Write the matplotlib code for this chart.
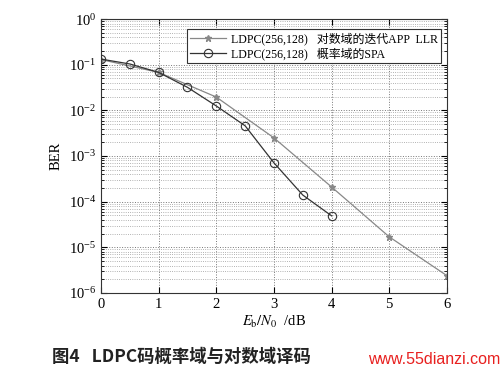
import matplotlib
matplotlib.use("Agg")
import matplotlib.pyplot as plt
from matplotlib.ticker import LogLocator, FixedLocator, NullFormatter

plt.rcParams['font.family'] = ['Liberation Serif', 'Noto Sans CJK SC']
plt.rcParams['mathtext.fontset'] = 'stix'

llr_x = [0, 1, 2, 3, 4, 5, 6]
llr_ber = [0.13, 0.068, 0.0196, 0.0025, 0.00021, 1.7e-5, 2.4e-6]
spa_x = [0, 0.5, 1, 1.5, 2, 2.5, 3, 3.5, 4]
spa_ber = [0.133, 0.104, 0.068, 0.032, 0.0125, 0.0046, 0.00071, 0.00014, 4.9e-5]
legend_labels = ["LDPC(256,128)   对数域的迭代APP  LLR", "LDPC(256,128)   概率域的SPA"]
x_ticks = [0, 1, 2, 3, 4, 5, 6]

fig = plt.figure(figsize=(5.02, 3.82), dpi=100)
ax = fig.add_axes([0.2012, 0.233, 0.689, 0.717])

ax.semilogy(llr_x, llr_ber, color='#888888', lw=0.9, marker='*', ms=4.5,
            mfc='#888888', mec='#888888', label=legend_labels[0])
ax.semilogy(spa_x, spa_ber, color='#333333', lw=0.9, marker='o', ms=6,
            mfc='none', mec='#333333', mew=0.8, label=legend_labels[1])

ax.set_xlim(0, 6)
ax.set_ylim(1e-6, 1)
ax.xaxis.set_major_locator(FixedLocator(x_ticks))
ax.yaxis.set_major_locator(LogLocator(base=10, numticks=10))
ax.yaxis.set_minor_locator(LogLocator(base=10, subs=range(2, 10), numticks=10))
ax.yaxis.set_minor_formatter(NullFormatter())

ax.grid(True, which='major', ls=':', color='#777777', lw=0.7)
ax.grid(True, which='minor', axis='y', ls=':', color='#999999', lw=0.6)
ax.tick_params(which='both', direction='in', top=True, right=True, labelsize=10.5)
ax.tick_params(which='major', length=4)
ax.tick_params(which='minor', length=2)
for s in ax.spines.values():
    s.set_color('#333333')
    s.set_linewidth(0.8)

ax.set_xlabel(r'$E_\mathrm{b}/N_0$  /dB', fontsize=10.5, labelpad=2)
ax.set_ylabel('BER', fontsize=10.5)
ax.yaxis.set_label_coords(-0.11, 0.5)

leg = ax.legend(loc='upper right', fontsize=8.6, frameon=True, fancybox=False,
                edgecolor='#333333', borderpad=0.25, handlelength=3.0,
                handletextpad=0.4, labelspacing=0.2,
                bbox_to_anchor=(1.0, 0.985))
leg.get_frame().set_linewidth(0.8)
leg.get_frame().set_alpha(1)

fig.text(0.104, 0.065, '图4   LDPC码概率域与对数域译码', fontsize=12.5,
         fontweight='bold', color='#222222', va='center',
         family=['Noto Sans CJK SC', 'Liberation Serif'])
fig.text(0.733, 0.058, 'www.55dianzi.com', fontsize=11.5, color='#e8201f',
         va='center', family=['Liberation Sans'])

fig.savefig('out.png', dpi=100)
